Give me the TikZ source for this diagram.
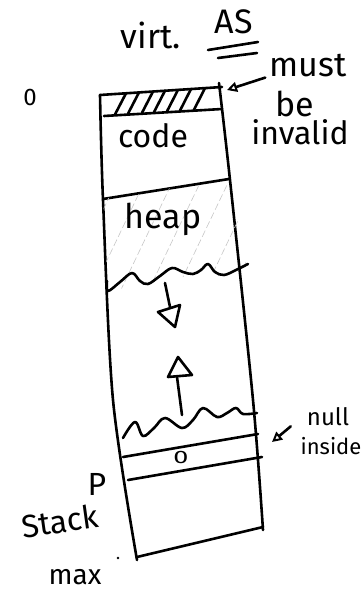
\documentclass[tikz,border=0pt]{standalone}
\usepackage{fontspec}
\setmainfont{Fira Sans}
\usetikzlibrary{arrows.meta}
\begin{document}
\begin{tikzpicture}[x=1pt,y=-1pt,
  ink/.style={line width=2.6pt,line cap=round,line join=round},
  hand/.style={inner sep=0pt,font=\fontsize{#1}{#1}\selectfont},
  hand/.default=26,
  pointer/.style={ink,-{Triangle[open,length=10pt,width=10pt,line width=2pt]}},
  faint/.style={gray!45,line width=0.6pt,dash pattern=on 7pt off 3pt},
]
\useasboundingbox (0,0) rectangle (362,591);

% title
\node[hand=34] (virt) at (151,35) {virt.};
\node[hand=34] (as) at (234,22) {AS};
\draw[ink] (208,50) -- (258,42);
\draw[ink] (218,58) -- (257,53);

% address zero
\node[hand=24] (zero) at (30,97) {0};

% outline of the address space
\draw[ink] plot[smooth] coordinates {(100,95) (103,200) (113,400) (137,560)};
\draw[ink] plot[smooth] coordinates {(219,83) (230,180) (253,400) (263,530)};
\draw[ink] (100,95) -- (222,87);
\draw[ink] (137,557) -- (263,527);

% invalid first page, hatched
\draw[ink] (104,116) -- (222,109);
\foreach \x in {115,128,142,154,167,180,194}
  \draw[ink] (\x,{115-0.06*(\x-106)}) -- ({\x+11},{95-0.066*(\x-89)});

% code / heap boundary
\draw[ink] (103,199) -- (229,179);
\node[hand=32] (code) at (153,136) {code};

% heap, faintly shaded
\begin{scope}
  \clip (103,199) -- (229,179) -- (247,265) -- (108,291) -- cycle;
  \foreach \x in {60,88,...,260}
    \draw[faint] (\x,300) -- ++(55,-115);
\end{scope}
\node[hand=34] (heap) at (163,219) {heap};

% top of heap
\draw[ink] plot[smooth,tension=0.6] coordinates {(107,281) (108,291) (120,282) (132,273) (140,281) (148,284)
  (160,276) (172,268) (183,272) (193,274) (201,270) (208,264) (215,272) (224,275) (236,270) (248,264)};

% heap grows down
\draw[ink] (165,283) -- (170,307);
\draw[ink] (158,312) -- (180,305) -- (175,327) -- cycle;

% stack grows up
\draw[ink] (182,415) -- (177,377);
\draw[ink] (178,357) -- (168,377) -- (192,375) -- cycle;

% top of stack
\draw[ink] plot[smooth,tension=0.6] coordinates {(123,438) (135,422) (143,436) (154,428) (165,418)
  (182,428) (193,420) (203,408) (217,417) (227,413) (236,408) (243,414) (257,413)};

% slot holding the null word
\draw[ink] (123,457) -- (258,434);
\draw[ink] (128,480) -- (262,457);
\node[hand=18,xscale=1.5] (nullword) at (181,457) {0};

% annotations
\node[hand=34] (must) at (308,66) {must};
\node[hand=34] (be) at (295,104) {be};
\node[hand=32] (invalid) at (300,132) {invalid};
\coordinate (bandtip) at (227,90);
\draw[pointer] ([xshift=-4pt]must.south west) -- (bandtip);

\node[hand=24] (null) at (328,417) {null};
\node[hand=22] (inside) at (331,446) {inside};
\coordinate (slottip) at (272,442);
\draw[pointer] ([xshift=-16pt]null.south west) -- (slottip);

\node[hand=32] (p) at (97,484) {P};
\node[hand=32,rotate=8] (stack) at (60,521) {Stack};
\node[hand=28] (max) at (75,577) {max};
\fill (118,558) circle (1.4pt);
\end{tikzpicture}
\end{document}
